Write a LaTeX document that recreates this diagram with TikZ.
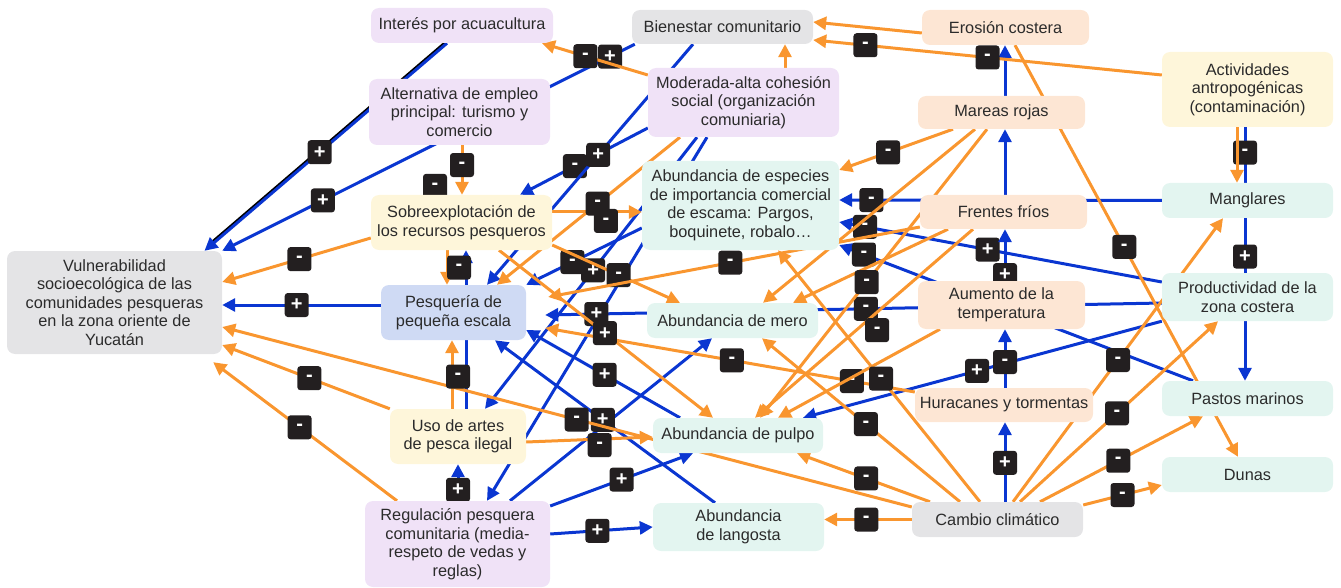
\documentclass[tikz,border=0pt]{standalone}
\usepackage{fontspec}
\setmainfont{Liberation Sans}
\usepackage{tikz}
\usetikzlibrary{arrows.meta,backgrounds}
\definecolor{MapBlue}{HTML}{0A36D1}
\definecolor{MapOrange}{HTML}{F9962F}
\definecolor{MapInk}{HTML}{2B2B2B}
\definecolor{MapTag}{HTML}{231F20}
\definecolor{MapLilac}{HTML}{F0E2F7}
\definecolor{MapGrey}{HTML}{E4E4E6}
\definecolor{MapPeach}{HTML}{FDE6D4}
\definecolor{MapCream}{HTML}{FEF6DA}
\definecolor{MapMint}{HTML}{E3F5F0}
\definecolor{MapSky}{HTML}{CFDAF4}
\tikzset{
  maplabel/.style={font=\fontsize{16.3}{18.5}\selectfont, text=MapInk},
  mapbox/.style={maplabel, align=center, rounded corners=8pt, inner sep=2pt},
  socbox/.style={mapbox, fill=MapLilac},
  greybox/.style={mapbox, fill=MapGrey},
  hazbox/.style={mapbox, fill=MapPeach},
  pressbox/.style={mapbox, fill=MapCream},
  ecobox/.style={mapbox, fill=MapMint},
  fishbox/.style={mapbox, fill=MapSky},
  poslink/.style={-{Triangle[length=13pt,width=13pt]}, line width=3pt, draw=MapBlue},
  neglink/.style={-{Triangle[length=13pt,width=13pt]}, line width=3pt, draw=MapOrange},
  signtag/.style={fill=MapTag, text=white, rounded corners=3pt, minimum width=24pt, minimum height=24pt, inner sep=0pt, font=\fontsize{20}{20}\selectfont\bfseries}
}
\begin{document}
\begin{tikzpicture}[x=1pt,y=-1pt]
\useasboundingbox (0,0) rectangle (1341,588);
% boxes
\node[socbox, minimum width=182pt, minimum height=35pt] (interes) at (462,25.5) {Interés por acuacultura};
\node[greybox, minimum width=181pt, minimum height=34pt] (bienestar) at (722.5,27) {Bienestar comunitario};
\node[hazbox, minimum width=167pt, minimum height=35pt] (erosion) at (1005.5,27.5) {Erosión costera};
\node[socbox, minimum width=181pt, minimum height=66pt] (alternativa) at (459.5,112) {Alternativa de empleo\\principal: turismo y\\comercio};
\node[socbox, minimum width=191pt, minimum height=69pt] (cohesion) at (743.5,102.5) {Moderada-alta cohesión\\social (organización\\comuniaria)};
\node[pressbox, minimum width=171pt, minimum height=75pt] (antropo) at (1247.5,89.5) {Actividades\\antropogénicas\\(contaminación)};
\node[hazbox, minimum width=167pt, minimum height=33pt] (mareas) at (1001.5,112.5) {Mareas rojas};
\node[ecobox, minimum width=197pt, minimum height=89pt] (escama) at (740.5,205.5) {Abundancia de especies\\de importancia comercial\\de escama: Pargos,\\boquinete, robalo…};
\node[pressbox, minimum width=181pt, minimum height=55pt] (sobreexp) at (461.5,222.5) {Sobreexplotación de\\los recursos pesqueros};
\node[ecobox, minimum width=171pt, minimum height=35pt] (manglares) at (1247.5,200.5) {Manglares};
\node[hazbox, minimum width=167pt, minimum height=34pt] (frentes) at (1003.5,212) {Frentes fríos};
\node[greybox, minimum width=215pt, minimum height=103pt] (vulnera) at (114.5,302.5) {Vulnerabilidad\\socioecológica de las\\comunidades pesqueras\\en la zona oriente de\\Yucatán};
\node[fishbox, minimum width=145pt, minimum height=55pt] (pesqueria) at (453.5,312.5) {Pesquería de\\pequeña escala};
\node[ecobox, minimum width=171pt, minimum height=35pt] (mero) at (732.5,320.5) {Abundancia de mero};
\node[hazbox, minimum width=167pt, minimum height=48pt] (temperatura) at (1001.5,305) {Aumento de la\\temperatura};
\node[ecobox, minimum width=171pt, minimum height=48pt] (productividad) at (1247.5,297) {Productividad de la\\zona costera};
\node[pressbox, minimum width=136pt, minimum height=55pt] (artes) at (458,436.5) {Uso de artes\\de pesca ilegal};
\node[ecobox, minimum width=170pt, minimum height=35pt] (pulpo) at (738,435.5) {Abundancia de pulpo};
\node[hazbox, minimum width=178pt, minimum height=34pt] (huracanes) at (1004,405) {Huracanes y tormentas};
\node[ecobox, minimum width=171pt, minimum height=35pt] (pastos) at (1247.5,398.5) {Pastos marinos};
\node[ecobox, minimum width=171pt, minimum height=35pt] (dunas) at (1247.5,474.5) {Dunas};
\node[greybox, minimum width=171pt, minimum height=35pt] (cambio) at (997.5,519.5) {Cambio climático};
\node[socbox, minimum width=185pt, minimum height=86pt] (regulacion) at (457.5,544) {Regulación pesquera\\comunitaria (media-\\respeto de vedas y\\reglas)};
\node[ecobox, minimum width=171pt, minimum height=48pt] (langosta) at (738.5,527) {Abundancia\\de langosta};
\begin{pgfonlayer}{background}
% positive links
\draw[line width=3pt, black, shorten >=12pt, transform canvas={shift={(-1.2pt,1pt)}}] ([xshift=-15]interes.south) -- ([xshift=90]vulnera.north);
\draw[poslink] ([xshift=-15]interes.south) -- ([xshift=90]vulnera.north) node[signtag, pos=.525] {+};
\draw[poslink] ([xshift=3]bienestar.south west) -- (vulnera.north east) node[signtag, pos=.06] {+} node[signtag, pos=.756] {+};
\draw[poslink] ([yshift=7.5]pesqueria.west) -- ([yshift=-2.5]vulnera.east) node[signtag, pos=.53] {+};
\draw[poslink] ([yshift=-25.5]cohesion.west) -- ([xshift=58.5]sobreexp.north) node[signtag, pos=.57] {-};
\draw[poslink] ([xshift=-29.5]bienestar.south) -- ([xshift=33.5]pesqueria.north) node[signtag, pos=.46] {+};
\draw[poslink] ([xshift=-46.5]cohesion.south) -- ([xshift=27]artes.north) node[signtag, pos=.49] {+};
\draw[poslink] ([xshift=-36.5]cohesion.south) -- ([xshift=29.5]regulacion.north);
\draw[poslink] ([yshift=-22.5]escama.west) -- (pesqueria.north east) node[signtag, pos=.6] {-};
\draw[poslink] ([xshift=.5]regulacion.north) -- (artes.south) node[signtag, pos=.3] {+};
\draw[poslink] ([xshift=8]artes.north) -- ([xshift=4.5]sobreexp.south);
\draw[poslink] ([yshift=-6]productividad.west) -- ([xshift=19,yshift=-2.5]pesqueria.east) node[signtag, pos=.48] {-} node[signtag, pos=.917] {+};
\draw[poslink] (manglares.west) -- ([yshift=5.5]escama.east) node[signtag, pos=.9] {-};
\draw[poslink] ([yshift=15]productividad.west) -- ([yshift=-16.5]escama.east) node[signtag, pos=.54] {+} node[signtag, pos=.92] {-};
\draw[poslink] ([xshift=-54.5]pastos.north) -- ([yshift=-39.5]escama.east) node[signtag, pos=.93] {-};
\draw[poslink] (productividad.south west) -- ([xshift=65]pulpo.north) node[signtag, pos=.515] {+};
\draw[poslink] ([xshift=1]huracanes.north) -- ([xshift=3.5]temperatura.south) node[signtag, pos=.44] {-};
\draw[poslink] ([xshift=7.5]cambio.north) -- ([xshift=1]huracanes.south) node[signtag, pos=.49] {+};
\draw[poslink] ([xshift=3.5]temperatura.north) -- ([xshift=1.5]frentes.south) node[signtag, pos=.11] {+};
\draw[poslink] ([xshift=1.5]frentes.north) -- ([xshift=3.5]mareas.south);
\draw[poslink] ([xshift=3.5]mareas.north) -- ([xshift=-.5]erosion.south);
\draw[poslink] ([xshift=-2.5]antropo.south) -- ([xshift=-2.5]pastos.north) node[signtag, pos=.1] {-} node[signtag, pos=.51] {+};
\draw[poslink] ([xshift=52.5]regulacion.north) -- ([xshift=-20.5]mero.south);
\draw[poslink] ([yshift=38]regulacion.east) -- ([xshift=-45]pulpo.south) node[signtag, pos=.5] {+};
\draw[poslink] ([yshift=10]regulacion.east) -- (langosta.west) node[signtag, pos=.46] {+};
\draw[poslink] ([xshift=-23.5]langosta.north) -- ([xshift=41.5]pesqueria.south) node[signtag, pos=.51] {+};
\draw[poslink] ([xshift=-58]pulpo.north) -- ([yshift=-17.5]pesqueria.east) node[signtag, pos=.49] {+};
% negative links
\draw[neglink] ([yshift=27.5]cohesion.west) -- ([xshift=80]interes.south) node[signtag, pos=.59] {-};
\draw[neglink] ([xshift=41.5]cohesion.north) -- ([xshift=62.5]bienestar.south);
\draw[neglink] ([yshift=-5.5]erosion.west) -- ([yshift=5]bienestar.east);
\draw[neglink] ([yshift=14.5]antropo.west) -- ([yshift=-13]bienestar.east) node[signtag, pos=.5] {-} node[signtag, pos=.85] {-};
\draw[neglink] ([xshift=9.5]erosion.south) -- ([xshift=-9.5]dunas.north) node[signtag, pos=.49] {-};
\draw[neglink] ([xshift=-10.5]antropo.south) -- ([xshift=-10.5]manglares.north);
\draw[neglink] ([xshift=2.5]alternativa.south) -- ([xshift=.5]sobreexp.north) node[signtag, pos=.4] {-} node[signtag, pos=.82, xshift=-27] {-};
\draw[neglink] ([yshift=-15.5]sobreexp.west) -- ([yshift=20.5]vulnera.east) node[signtag, pos=.48] {-};
\draw[neglink] ([xshift=-14.5]sobreexp.south) -- ([xshift=-6.5]pesqueria.north) node[signtag, pos=.5, xshift=12] {-};
\draw[neglink] ([yshift=10.5]sobreexp.east) -- ([yshift=-6.5]escama.west) node[signtag, pos=.6, yshift=-9] {-};
\draw[neglink] ([xshift=-63.5]cohesion.south) -- ([xshift=43.5]pesqueria.north) node[signtag, pos=.45] {-};
\draw[neglink] ([yshift=12.5]cambio.west) -- ([yshift=-24.5]vulnera.east) node[signtag, pos=.486] {-};
\draw[neglink] (artes.north west) -- ([yshift=-42.5]vulnera.east) node[signtag, pos=.48] {-};
\draw[neglink] ([xshift=-60.5]regulacion.north) -- ([xshift=-9,yshift=-8]vulnera.south east) node[signtag, pos=.53] {-};
\draw[neglink] ([xshift=-6]artes.north) -- ([xshift=-1.5]pesqueria.south) node[signtag, pos=.47, xshift=6] {-};
\draw[neglink] ([yshift=-5.5]artes.east) -- ([yshift=-1.5]pulpo.west) node[signtag, pos=.58, yshift=-6] {-};
\draw[neglink] ([yshift=13]huracanes.west) -- ([xshift=19,yshift=-15.5]pesqueria.east) node[signtag, pos=.17] {-} node[signtag, pos=.495] {-};
\draw[neglink] ([xshift=37.5]sobreexp.south) -- ([xshift=-25]pulpo.north) node[signtag, pos=.495] {+};
\draw[neglink] ([yshift=-22.5]sobreexp.east) -- ([xshift=-52.5]mero.north) node[signtag, pos=.52] {-};
\draw[neglink] ([yshift=-15]frentes.west) -- ([xshift=22,yshift=15.5]pesqueria.east) node[signtag, pos=.51] {-};
\draw[neglink] ([xshift=-55.5]frentes.south) -- ([xshift=60.5]mero.north);
\draw[neglink] ([xshift=-26.5]mareas.south) -- ([xshift=30.5]mero.north);
\draw[neglink] ([xshift=-14.5]mareas.south) -- ([xshift=22]pulpo.north) node[signtag, pos=.53] {-};
\draw[neglink] ([xshift=-61.5]temperatura.south) -- ([xshift=40]pulpo.north);
\draw[neglink] ([xshift=-30.5]frentes.south) -- ([xshift=17]pulpo.north) node[signtag, pos=.44, yshift=-18] {-};
\draw[neglink] ([xshift=-37.5]cambio.north) -- ([xshift=29.5]mero.south) node[signtag, pos=.475] {-};
\draw[neglink] ([xshift=-67.5]cambio.north) -- ([xshift=59]pulpo.south) node[signtag, pos=.48] {-};
\draw[neglink] (cambio.west) -- ([yshift=7.5]langosta.east) node[signtag, pos=.52] {-};
\draw[neglink] ([yshift=14.5]cambio.east) -- ([yshift=-10.5]dunas.west) node[signtag, pos=.5] {-};
\draw[neglink] ([xshift=42.5]cambio.north) -- ([xshift=-44.5]pastos.south) node[signtag, pos=.48] {-};
\draw[neglink] ([xshift=22.5]cambio.north) -- ([xshift=-29.5]productividad.south) node[signtag, pos=.49] {-};
\draw[neglink] ([xshift=15.5]cambio.north) -- ([xshift=-24.5]manglares.south) node[signtag, pos=.5] {-};
\draw[neglink] ([xshift=-17.5]cambio.north) -- ([xshift=37.5]escama.south) node[signtag, pos=.49] {-};
\draw[neglink] ([xshift=-48.5]mareas.south) -- ([yshift=35.5]escama.east) node[signtag, pos=.57] {-};
\end{pgfonlayer}
\end{tikzpicture}
\end{document}
